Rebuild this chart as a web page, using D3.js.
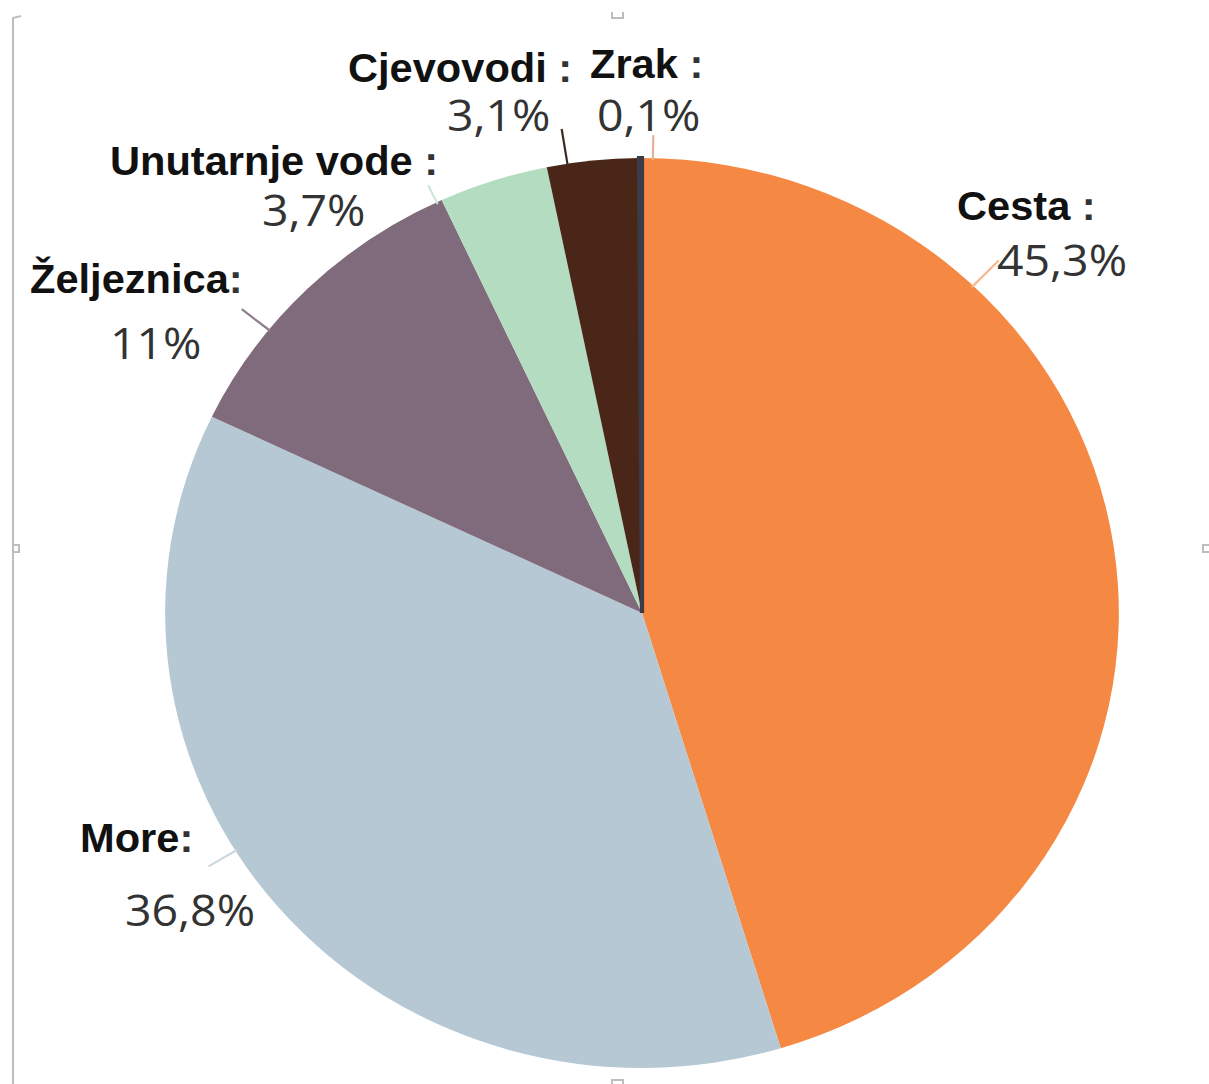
<!DOCTYPE html>
<html>
<head>
<meta charset="utf-8">
<script src="https://cdn.jsdelivr.net/npm/d3@7/dist/d3.min.js"></script>
<style>
html,body{margin:0;padding:0;background:#fff;}
svg{display:block;}
</style>
</head>
<body>
<script>
// ---- data ----
const categories = ["Cesta", "More", "Željeznica", "Unutarnje vode", "Cjevovodi", "Zrak"];
const values = [45.3, 36.8, 11, 3.7, 3.1, 0.1];
const valueLabels = ["45,3%", "36,8%", "11%", "3,7%", "3,1%", "0,1%"];
const colors = ["#F58842", "#B6C8D3", "#7F6B7C", "#B4DCC0", "#4A2618", "#3C3C46"];
const leaderColors = ["#F7B892", "#CBD8E0", "#8E7E8C", "#CFE8D6", "#3A2A22", "#E8B294"];

// ---- layout ----
const W = 1209, H = 1084;
const cx = 642, cy = 613, R = 455, sx = 1.048;
// label layout: name position, value position, leader angle (deg), leader outer radius
const labelLayout = [
  {nx: 957, ny: 220, px: 997, py: 276, colonSpace: true,  ang: 44,    r2: 490},
  {nx: 80,  ny: 852, px: 125, py: 926, colonSpace: false, ang: 238.5, r2: 485},
  {nx: 30,  ny: 293, px: 110, py: 359, colonSpace: false, ang: -51.5, r2: 488},
  {nx: 110, ny: 175, px: 262, py: 226, colonSpace: true,  ang: -25.5, r2: 474},
  {nx: 348, ny: 82,  px: 447, py: 131, colonSpace: true,  ang: -9,    r2: 490},
  {nx: 590, ny: 78,  px: 597, py: 131, colonSpace: true,  ang: 1.3,   r2: 478}
];

const svg = d3.select("body").append("svg").attr("width", W).attr("height", H);

// selection-frame artifacts
const frame = svg.append("g").attr("fill", "none").attr("stroke", "#BDBDBD").attr("stroke-width", 2);
frame.append("path").attr("d", "M21,16 L13,18 L13,1084");
frame.append("path").attr("d", "M13,545 L19,545 L19,552 L13,552");
frame.append("path").attr("d", "M612,12 L612,18 L623,18 L623,12");
frame.append("path").attr("d", "M612,1084 L612,1080 L623,1080 L623,1084");
frame.append("path").attr("d", "M1209,545 L1203,545 L1203,552 L1209,552");

const pie = d3.pie().sort(null).value(d => d)(values);
const arc = d3.arc().innerRadius(0).outerRadius(R);

const g = svg.append("g").attr("transform", `translate(${cx},${cy}) scale(${sx},1)`);
g.selectAll("path.slice").data(pie).enter().append("path")
  .attr("class", "slice")
  .attr("d", arc)
  .attr("fill", (d, i) => colors[i])
  .attr("stroke", (d, i) => i === 5 ? colors[i] : "none")
  .attr("stroke-width", (d, i) => i === 5 ? 4 : 0);

// leader lines
const rad = a => a * Math.PI / 180;
g.selectAll("line.leader").data(labelLayout).enter().append("line")
  .attr("x1", d => (R - 2) * Math.sin(rad(d.ang)))
  .attr("y1", d => -(R - 2) * Math.cos(rad(d.ang)))
  .attr("x2", d => d.r2 * Math.sin(rad(d.ang)))
  .attr("y2", d => -d.r2 * Math.cos(rad(d.ang)))
  .attr("stroke", (d, i) => leaderColors[i])
  .attr("stroke-width", 2.2)
  .attr("vector-effect", "non-scaling-stroke");

// labels
const lab = svg.append("g");
labelLayout.forEach((L, i) => {
  const t = lab.append("text")
    .attr("transform", `translate(${L.nx},${L.ny}) scale(1.04,1)`)
    .attr("font-family", "'Liberation Sans', Arial, sans-serif")
    .attr("font-weight", "bold")
    .attr("font-size", 40)
    .attr("fill", "#111");
  t.append("tspan").text(categories[i]);
  t.append("tspan").attr("fill", "#333").text((L.colonSpace ? " " : "") + ":");
  lab.append("text")
    .attr("transform", `translate(${L.px},${L.py}) scale(1.08,1)`)
    .attr("font-family", "'Open Sans', 'Noto Sans', sans-serif")
    .attr("font-size", 43)
    .attr("fill", "#333")
    .text(valueLabels[i]);
});
</script>
</body>
</html>
